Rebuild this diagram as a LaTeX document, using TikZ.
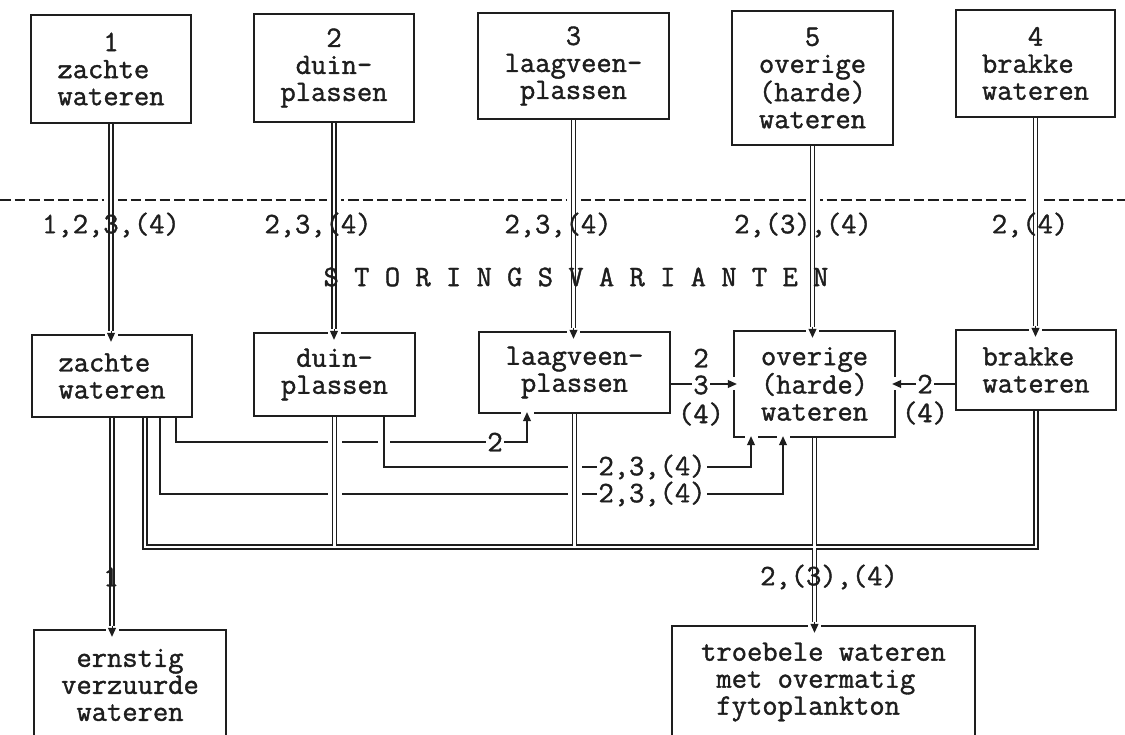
\documentclass[tikz,border=0pt]{standalone}
\usepackage{fontspec}
\newfontfamily\courfont[FakeBold=1.3]{Latin Modern Mono}
\usetikzlibrary{arrows.meta,calc}
\definecolor{ink}{RGB}{30,30,30}
\begin{document}
\begin{tikzpicture}[x=1pt,y=-1pt,
  every node/.style={font=\courfont\fontsize{29.7}{27}\selectfont, text=ink},
  boxtext/.style={inner sep=0pt, align=center},
  boxline/.style={draw=ink, line width=1.6pt},
  ln/.style={draw=ink, line width=1.4pt},
  gapw/.style={draw=white, line width=14pt},
  dbl/.style={draw=ink, line width=1.3pt, double=white, double distance=2.8pt},
  netw/.style={draw=white, line width=2.8pt, preaction={draw=ink, line width=5.4pt}},
  tipst/.style={draw=ink, line width=1pt, -{Triangle[length=9pt,width=8pt]}},
  onln/.style={fill=white, inner xsep=1.5pt, inner ysep=0pt},
  lbl/.style={inner sep=1pt}]
\useasboundingbox (0,0) rectangle (1125,735);
\fill[white] (0,0) rectangle (1125,735);

% ---------- box texts ----------
\node[boxtext, minimum width=160pt, minimum height=108pt] (t1) at (111,69) {1\\zachte\hphantom{n}\\wateren};
\node[boxtext, minimum width=160pt, minimum height=108pt] (t2) at (334,68) {2\\duin-\\plassen};
\node[boxtext, minimum width=191pt, minimum height=106pt] (t3) at (573.5,66) {3\\laagveen-\\plassen};
\node[boxtext, minimum width=161pt, minimum height=134pt] (t5) at (812.5,78) {5\\overige\\(harde)\\wateren};
\node[boxtext, minimum width=159pt, minimum height=107pt] (t4) at (1035.5,63.5) {4\\brakke\hphantom{n}\\wateren};

\node[boxtext, minimum width=160pt, minimum height=82pt] (m1) at (112,376) {zachte\hphantom{n}\\wateren};
\node[boxtext, minimum width=161pt, minimum height=83pt] (m2) at (334.5,374.5) {duin-\\plassen};
\node[boxtext, minimum width=191pt, minimum height=81pt] (m3) at (574.5,372.5) {laagveen-\\plassen};
\node[boxtext, minimum width=161pt, minimum height=106pt] (m5) at (814.5,384) {overige\\(harde)\\wateren};
\node[boxtext, minimum width=160pt, minimum height=80pt] (m4) at (1036,370) {brakke\hphantom{n}\\wateren};

\node[boxtext, minimum width=192pt, minimum height=110pt] (e1) at (130,685) {ernstig\\verzuurde\\wateren};
\node[boxtext, align=left, minimum width=303pt, minimum height=112pt] (e2) at (823.5,682) {troebele wateren\\\hphantom{n}met overmatig\\\hphantom{n}fytoplankton};

% ---------- coordinates ----------
\coordinate (dl) at (0,200);
\coordinate (dr) at (1125,200);
\coordinate (la1) at (176,442);
\coordinate (la2) at (527,442);
\coordinate (lb1) at (384,467);
\coordinate (lb2) at (751,467);
\coordinate (lc1) at (160,494);
\coordinate (lc2) at (783,494);
\coordinate (bs1) at (145,547);
\coordinate (bs4) at (m4.south |- bs1);
\coordinate (dm1) at (t1.south |- m1.north);
\coordinate (dm2) at (t2.south |- m2.north);
\coordinate (dm3) at (t3.south |- m3.north);
\coordinate (dm5) at (t5.south |- m5.north);
\coordinate (dm4) at (t4.south |- m4.north);
\coordinate (de1) at (m1.south |- e1.north);
\coordinate (de2) at (m5.south |- e2.north);
\coordinate (ua3) at (m3.south -| la2);
\coordinate (ub5) at (m5.south -| lb2);
\coordinate (uc5) at (m5.south -| lc2);

% ---------- dashed separation line ----------
\draw[draw=ink, line width=1.8pt, dash pattern=on 10.5pt off 4pt] (dl) -- (dr);

% ---------- top double connectors ----------
\foreach \a/\b in {t1/dm1, t2/dm2, t3/dm3, t5/dm5, t4/dm4} {
  \draw[gapw] (\a.south) -- ($(\b)+(0,-4)$);
  \draw[dbl] (\a.south) -- ($(\b)+(0,-4)$);
}

% ---------- single connectors ----------
\draw[ln] (m1.south -| la1) -- (la1) -- (la2) -- (ua3);
\draw[ln] (m1.south -| lc1) -- (lc1) -- (lc2) -- (uc5);
\draw[draw=white, line width=12pt] (m2.south -| lb1) -- (lb1) -- (lb2) -- (ub5);
\draw[ln] (m2.south -| lb1) -- (lb1) -- (lb2) -- (ub5);
\draw[ln] (m3.east |- m5.west) -- (m5.west);
\draw[ln] (m4.west |- m5.east) -- (m5.east);

% ---------- collecting double network ----------
\draw[gapw] (m2.south) -- (m2.south |- bs1) (m3.south) -- (m3.south |- bs1);
\draw[netw] (m1.south -| bs1) -- (bs1) -- (bs4) -- (m4.south)
  (m2.south) -- (m2.south |- bs1)
  (m3.south) -- (m3.south |- bs1)
  (m5.south) -- ($(de2)+(0,-4)$)
  (m1.south) -- ($(de1)+(0,-4)$);

% ---------- box borders ----------
\foreach \n in {t1,t2,t3,t5,t4,m1,m2,m3,m5,m4,e1,e2}
  \draw[boxline] (\n.south west) rectangle (\n.north east);

% ---------- arrow heads ----------
\foreach \p in {dm1,dm2,dm3,dm5,dm4,de1,de2} {
  \draw[gapw, line width=13pt] ($(\p)+(0,-3)$) -- ($(\p)+(0,6)$);
  \draw[tipst] ($(\p)+(0,-4)$) -- ($(\p)+(0,7)$);
}
\foreach \p in {ua3,ub5,uc5} {
  \draw[gapw, line width=13pt] ($(\p)+(0,3)$) -- ($(\p)+(0,-3)$);
  \draw[tipst] ($(\p)+(0,10)$) -- ($(\p)+(0,-1)$);
}
\draw[gapw, line width=13pt] ($(m5.west)+(-3,0)$) -- ($(m5.west)+(3,0)$);
\draw[tipst] ($(m5.west)+(-10,0)$) -- ($(m5.west)+(3,0)$);
\draw[gapw, line width=13pt] ($(m5.east)+(3,0)$) -- ($(m5.east)+(-3,0)$);
\draw[tipst] ($(m5.east)+(10,0)$) -- ($(m5.east)+(-3,0)$);

% ---------- labels ----------
\node[lbl] (r1) at (111,225) {1,2,3,(4)};
\node[lbl] (r2) at (318,225) {2,3,(4)};
\node[lbl] (r3) at (558,225) {2,3,(4)};
\node[lbl] (r5) at (803,225) {2,(3),(4)};
\node[lbl] (r4) at (1030,225) {2,(4)};
\node[lbl] (stv) at (576,277) {S T O R I N G S V A R I A N T E N};

\node[onln] (qa) at (495,442) {2};
\node[onln] (qb) at (652,467) {2,3,(4)};
\node[onln] (qc) at (652,494) {2,3,(4)};
\node[lbl] (h1) at (701,358) {2};
\node[onln] (h2) at (701,385) {3};
\node[lbl] (h3) at (701,414) {(4)};
\node[onln] (k1) at (925,384) {2};
\node[lbl] (k2) at (925,413) {(4)};
\node[lbl] (v1) at (111,577) {1};
\node[lbl] (v5) at (829,577) {2,(3),(4)};
\end{tikzpicture}
\end{document}
